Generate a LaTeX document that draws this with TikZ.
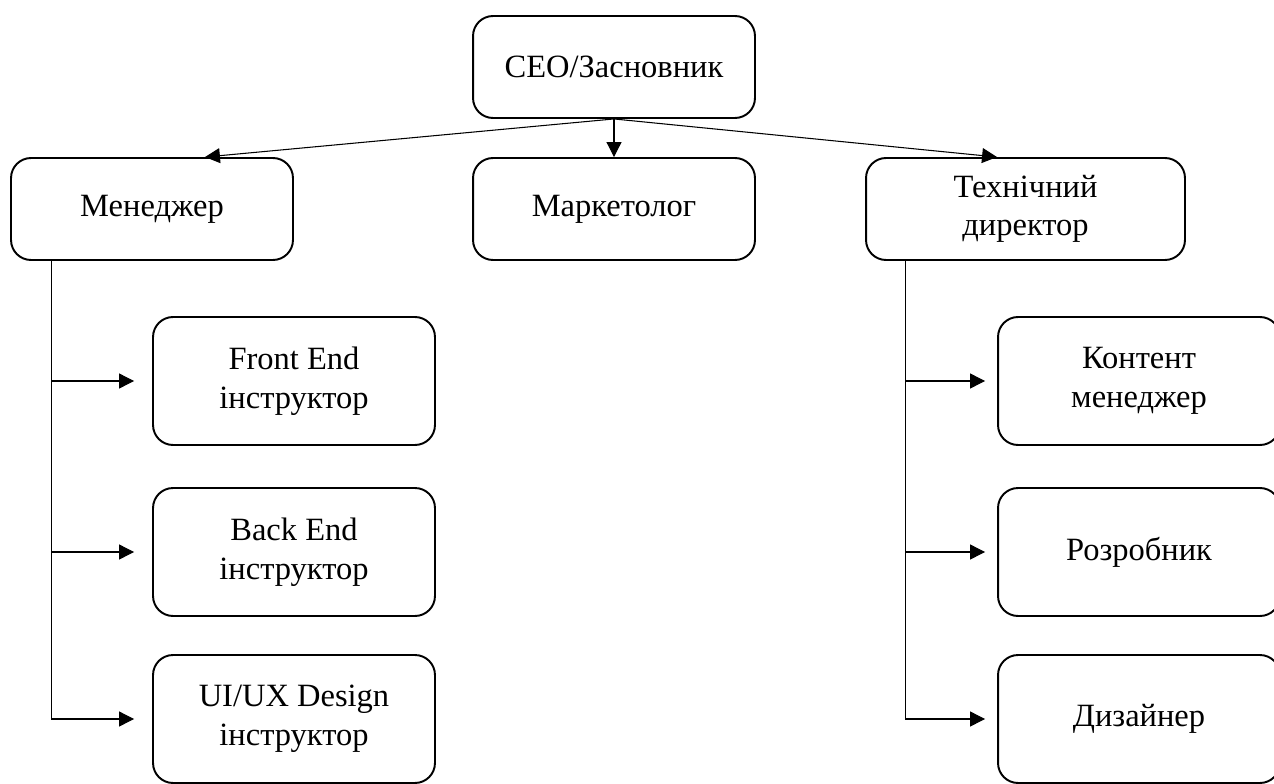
\documentclass[tikz,border=0pt]{standalone}
\usepackage{fontspec}
\setmainfont{Liberation Serif}
\usetikzlibrary{positioning,arrows.meta,calc}

\begin{document}
\begin{tikzpicture}[
          x=0.02cm, y=-0.02cm,
          box/.style={draw, line width=1.1pt, rounded corners=0.4cm, align=center,
                      font=\fontsize{18.5}{22}\selectfont, minimum width=5.64cm},
          top/.style={box, minimum height=2.04cm},
          sub/.style={box, minimum height=2.56cm},
          arr/.style={line width=0.6pt, -{Triangle[length=8.5pt, width=8.5pt]}},
          ln/.style={line width=0.6pt}
      ]
        \useasboundingbox (0,0) rectangle (1274,784);
        % top levels
        \node[top] (ceo) at (614,67) {CEO/Засновник};
        \node[top] (man) at (152,209) {Менеджер};
        \node[top] (mkt) at (614,209) {Маркетолог};
        \node[top, minimum width=6.38cm] (tech) at (1025.5,209) {Технічний\\директор};
        % instructors
        \node[sub] (fe) at (294,381) {Front End\\інструктор};
        \node[sub] (be) at (294,552) {Back End\\інструктор};
        \node[sub] (ui) at (294,719) {UI/UX Design\\інструктор};
        % tech team
        \node[sub] (cm) at (1139,381) {Контент\\менеджер};
        \node[sub] (dev) at (1139,552) {Розробник};
        \node[sub] (des) at (1139,719) {Дизайнер};
        % from CEO
        \draw[arr] (ceo.south) -- ([xshift=1.06cm]man.north);
        \draw[arr] (ceo.south) -- (mkt.north);
        \draw[arr] (ceo.south) -- ([xshift=-0.57cm]tech.north);
        % left trunk
        \coordinate (lt) at ([xshift=0.82cm]man.south west);
        \draw[ln] (lt) -- (lt |- ui.west);
        \foreach \n in {fe,be,ui}
          \draw[arr] (lt |- \n.west) -- ([xshift=-0.36cm]\n.west);
        % right trunk
        \coordinate (rt) at ([xshift=0.8cm]tech.south west);
        \draw[ln] (rt) -- (rt |- des.west);
        \foreach \n in {cm,dev,des}
          \draw[arr] (rt |- \n.west) -- ([xshift=-0.24cm]\n.west);
      \end{tikzpicture}
\end{document}
